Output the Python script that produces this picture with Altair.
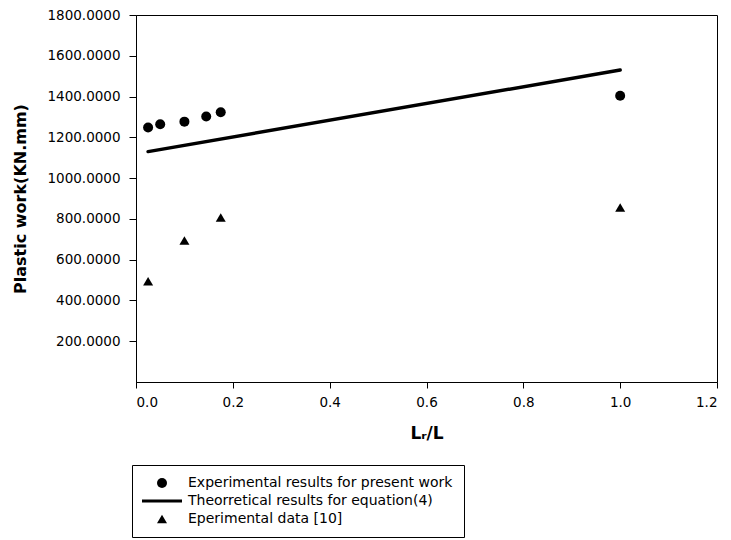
import altair as alt
import pandas as pd

# ---- data ----
exp_x = [0.025, 0.05, 0.1, 0.145, 0.175, 1.0]
exp_y = [1248, 1264, 1277, 1302, 1323, 1404]

theory_x = [0.025, 1.0]
theory_y = [1130, 1530]

tri_x = [0.025, 0.1, 0.175, 1.0]
tri_y = [494, 694, 807, 856]

series_names = [
    "Experimental results for present work",
    "Theorretical results for equation(4)",
    "Eperimental data [10]",
]
x_ticks = [0.0, 0.2, 0.4, 0.6, 0.8, 1.0, 1.2]
y_ticks = [200, 400, 600, 800, 1000, 1200, 1400, 1600, 1800]

points = pd.DataFrame(
    {
        "x": exp_x + tri_x,
        "y": exp_y + tri_y,
        "series": [series_names[0]] * len(exp_x) + [series_names[2]] * len(tri_x),
    }
)
theory = pd.DataFrame({"x": theory_x, "y": theory_y})

FONT = "DejaVu Sans"

x_enc = alt.X(
    "x:Q",
    scale=alt.Scale(domain=[0, 1.2], nice=False, zero=False),
    axis=alt.Axis(
        title="Lᵣ/L",
        values=x_ticks,
        format=".1f",
        grid=False,
        tickSize=6,
        labelPadding=7,
        titlePadding=17,
    ),
)
y_enc = alt.Y(
    "y:Q",
    scale=alt.Scale(domain=[0, 1800], nice=False),
    axis=alt.Axis(
        title="Plastic work(KN.mm)",
        values=y_ticks,
        format=".4f",
        grid=False,
        tickSize=7,
        labelPadding=9,
        titlePadding=18,
        titleFontSize=16,
    ),
)

pts = alt.Chart(points).mark_point(
    filled=True, color="black", size=100, opacity=1
).encode(
    x=x_enc,
    y=y_enc,
    shape=alt.Shape(
        "series:N",
        scale=alt.Scale(
            domain=series_names,
            range=["circle", "M-4,-0.31H4V0.31H-4Z", "triangle-up"],
        ),
        legend=alt.Legend(
            title=None,
            orient="none",
            legendX=-4,
            legendY=450,
            strokeColor="black",
            fillColor="white",
            padding=11,
            symbolFillColor="black",
            symbolStrokeWidth=0,
            symbolSize=100,
            symbolOffset=12,
            labelOffset=19,
            labelFont=FONT,
            labelFontSize=14,
            labelColor="black",
            labelLimit=400,
            rowPadding=4,
            cornerRadius=0,
        ),
    ),
)

line = alt.Chart(theory).mark_line(
    color="black", strokeWidth=3.5, strokeCap="round"
).encode(x="x:Q", y="y:Q")

chart = (
    alt.layer(line, pts)
    .properties(
        width=581,
        height=367,
        autosize=alt.AutoSizeParams(type="none"),
        padding={"left": 136, "top": 15, "right": 14, "bottom": 158},
        background="white",
    )
    .configure_view(stroke="black", strokeWidth=1)
    .configure_axis(
        domainColor="black",
        tickColor="black",
        labelColor="black",
        titleColor="black",
        labelFont=FONT,
        labelFontSize=13.5,
        titleFont=FONT,
        titleFontSize=17,
        titleFontWeight="bold",
    )
)

chart.save("out.html", embed_options={"renderer": "svg", "actions": False})
